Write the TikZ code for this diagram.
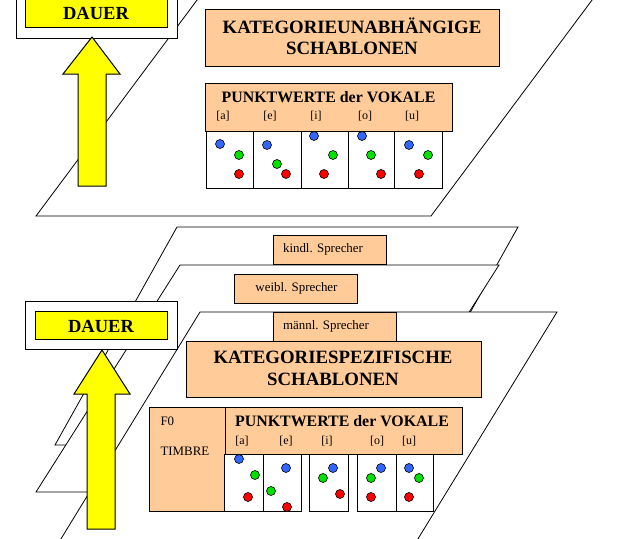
\documentclass[tikz,border=0pt]{standalone}
\usepackage{fontspec}
\setmainfont{Liberation Serif}
\definecolor{peach}{RGB}{255,204,153}
\definecolor{dblue}{RGB}{51,102,255}
\definecolor{dgreen}{RGB}{0,225,0}
\definecolor{dred}{RGB}{255,0,0}
\definecolor{dyellow}{RGB}{255,255,0}
\begin{document}
\begin{tikzpicture}[x=1pt,y=-1pt,line width=1pt,
  box/.style={draw=black,fill=peach,rectangle,inner sep=0pt,anchor=north west},
  wbox/.style={draw=black,fill=white,rectangle,inner sep=0pt,anchor=north west},
  ybox/.style={draw=black,fill=dyellow,rectangle,inner sep=0pt,anchor=north west},
  cellbox/.style={draw=black,fill=white,rectangle,inner sep=0pt,anchor=north west,minimum height=57pt},
  plane/.style={draw=black,fill=white,line width=0.8pt},
  bigtxt/.style={font=\bfseries\fontsize{18.8}{21.5}\selectfont,align=center,inner sep=0pt},
  midtxt/.style={font=\bfseries\fontsize{15.9}{18}\selectfont,inner sep=0pt},
  dauertxt/.style={font=\bfseries\fontsize{18.5}{20}\selectfont,inner sep=0pt},
  smalltxt/.style={font=\fontsize{12.9}{15}\selectfont,inner sep=0pt},
  vtxt/.style={font=\fontsize{12}{14}\selectfont,inner sep=0pt},
  bluedot/.style={circle,draw=black,line width=0.6pt,fill=dblue,minimum size=9pt,inner sep=0pt},
  greendot/.style={circle,draw=black,line width=0.6pt,fill=dgreen,minimum size=9pt,inner sep=0pt},
  reddot/.style={circle,draw=black,line width=0.6pt,fill=dred,minimum size=9pt,inner sep=0pt},
  arrowshape/.style={draw=black,fill=dyellow,line width=1pt}
]
\useasboundingbox (0,0) rectangle (623,538);
\clip (0,0) rectangle (623,538);

% ===== top level =====
\draw[plane] (36,216) -- (431,216) -- (607,-20) -- (212,-20) -- cycle;
\node[wbox,minimum width=161pt,minimum height=49pt] (dauerTout) at (16,-11) {};
\node[ybox,minimum width=142pt,minimum height=29pt] (dauerT) at (25,-2) {};
\node[dauertxt] (dauerTt) at (96,13.5) {DAUER};
\draw[arrowshape] (92,37) -- (120,74) -- (106,74) -- (106,186) -- (78,186) -- (78,74) -- (63,74) -- cycle;

\node[box,minimum width=294pt,minimum height=57pt] (katU) at (205,9) {};
\node[bigtxt] (katUt) at (352,36.5) {KATEGORIEUNABHÄNGIGE\\SCHABLONEN};

\node[box,minimum width=247pt,minimum height=48pt] (pwT) at (205,83) {};
\node[midtxt] (pwTt) at (328.5,97.5) {PUNKTWERTE der VOKALE};
\node[vtxt] (lTa) at (223,116) {[a]};
\node[vtxt] (lTe) at (270,116) {[e]};
\node[vtxt] (lTi) at (316,116) {[i]};
\node[vtxt] (lTo) at (365,116) {[o]};
\node[vtxt] (lTu) at (412,116) {[u]};

\node[cellbox,minimum width=47pt] (cTa) at (206,131) {};
\node[cellbox,minimum width=48pt] (cTe) at (253,131) {};
\node[cellbox,minimum width=47pt] (cTi) at (301,131) {};
\node[cellbox,minimum width=46pt] (cTo) at (348,131) {};
\node[cellbox,minimum width=48pt] (cTu) at (394,131) {};

\node[bluedot] (bTa) at (220,144) {};
\node[greendot] (gTa) at (239,155) {};
\node[reddot] (rTa) at (239,174) {};
\node[bluedot] (bTe) at (267,145) {};
\node[greendot] (gTe) at (277,164) {};
\node[reddot] (rTe) at (286,174) {};
\node[bluedot] (bTi) at (314,136) {};
\node[greendot] (gTi) at (333,155) {};
\node[reddot] (rTi) at (324,174) {};
\node[bluedot] (bTo) at (362,136) {};
\node[greendot] (gTo) at (371,155) {};
\node[reddot] (rTo) at (381,174) {};
\node[bluedot] (bTu) at (409,145) {};
\node[greendot] (gTu) at (428,155) {};
\node[reddot] (rTu) at (419,174) {};

% ===== bottom level =====
\draw[plane] (55,445) -- (396,445) -- (518,227) -- (177,227) -- cycle;
\node[box,minimum width=113pt,minimum height=29pt] (kindl) at (273,235) {};
\node[smalltxt] (kindlt) at (323,249.5) {kindl. Sprecher};

\draw[plane] (36,492) -- (355,492) -- (499,265) -- (180,265) -- cycle;
\node[box,minimum width=123pt,minimum height=29pt] (weibl) at (234,274) {};
\node[smalltxt] (weiblt) at (296.5,288.5) {weibl. Sprecher};

\draw[plane] (48,560) -- (405,560) -- (557,312) -- (200,312) -- cycle;
\node[box,minimum width=123pt,minimum height=29pt] (maennl) at (273,312) {};
\node[smalltxt] (maennlt) at (326,326.5) {männl. Sprecher};

\node[box,minimum width=295pt,minimum height=56pt] (katS) at (186,341) {};
\node[bigtxt] (katSt) at (333,368.5) {KATEGORIESPEZIFISCHE\\SCHABLONEN};

\node[box,minimum width=76pt,minimum height=104pt] (fzero) at (149,407) {};
\node[smalltxt,anchor=west] (fzerot) at (160,421.5) {F0};
\node[smalltxt,anchor=west] (timbret) at (160,451.5) {TIMBRE};

\node[box,minimum width=237pt,minimum height=47pt] (pwB) at (225,407) {};
\node[midtxt] (pwBt) at (342,421.5) {PUNKTWERTE der VOKALE};
\node[vtxt] (lBa) at (242,441.5) {[a]};
\node[vtxt] (lBe) at (286,441.5) {[e]};
\node[vtxt] (lBi) at (327,441.5) {[i]};
\node[vtxt] (lBo) at (377,441.5) {[o]};
\node[vtxt] (lBu) at (409,441.5) {[u]};

\node[cellbox,minimum width=39pt] (cBa) at (224,454) {};
\node[cellbox,minimum width=38pt] (cBe) at (263,454) {};
\node[cellbox,minimum width=39pt] (cBi) at (309,454) {};
\node[cellbox,minimum width=39pt] (cBo) at (357,454) {};
\node[cellbox,minimum width=37pt] (cBu) at (396,454) {};

\node[bluedot] (bBa) at (239,459) {};
\node[greendot] (gBa) at (255,475) {};
\node[reddot] (rBa) at (248,497) {};
\node[bluedot] (bBe) at (286,468) {};
\node[greendot] (gBe) at (271,491) {};
\node[reddot] (rBe) at (287,507) {};
\node[bluedot] (bBi) at (333,468) {};
\node[greendot] (gBi) at (323,478) {};
\node[reddot] (rBi) at (340,494) {};
\node[bluedot] (bBo) at (381,468) {};
\node[greendot] (gBo) at (371,478) {};
\node[reddot] (rBo) at (371,497) {};
\node[bluedot] (bBu) at (409,468) {};
\node[greendot] (gBu) at (419,478) {};
\node[reddot] (rBu) at (409,497) {};

\node[wbox,minimum width=152pt,minimum height=48pt] (dauerBout) at (25,301) {};
\node[ybox,minimum width=132pt,minimum height=28pt] (dauerB) at (35,311) {};
\node[dauertxt] (dauerBt) at (101,326) {DAUER};
\draw[arrowshape] (102,350) -- (130,394) -- (115,394) -- (115,529) -- (87,529) -- (87,394) -- (74,394) -- cycle;
\end{tikzpicture}
\end{document}
